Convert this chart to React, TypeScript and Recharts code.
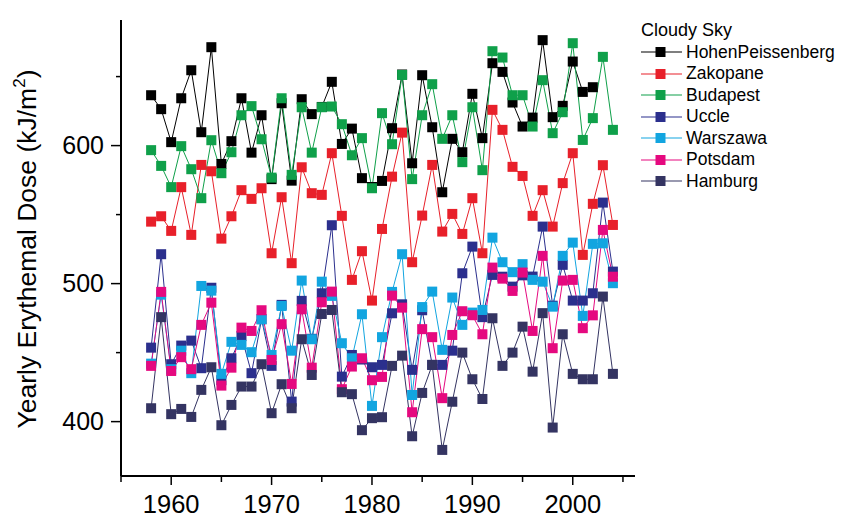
import React from 'react';
import { LineChart, Line, XAxis, YAxis, Legend } from 'recharts';

const years = [1958, 1959, 1960, 1961, 1962, 1963, 1964, 1965, 1966, 1967, 1968, 1969, 1970, 1971, 1972, 1973, 1974, 1975, 1976, 1977, 1978, 1979, 1980, 1981, 1982, 1983, 1984, 1985, 1986, 1987, 1988, 1989, 1990, 1991, 1992, 1993, 1994, 1995, 1996, 1997, 1998, 1999, 2000, 2001, 2002, 2003, 2004];

const hohenPeissenberg = [636.5, 626.4, 602.5, 634.3, 654.6, 609.7, 671.3, 586.7, 603.2, 634.3, 594.9, 622, 575.7, 630.7, 574.6, 633.6, 622.8, 628, 646.2, 601.2, 612.3, 576.4, 570, 574.4, 612.6, 651.5, 587.2, 651, 613.3, 566.2, 604.9, 595.2, 637.5, 605.4, 659.7, 653.4, 631.2, 613.8, 620.3, 676.4, 620.6, 628.8, 660.9, 638.9, 642.3, null, null];
const zakopane = [544.9, 548.8, 538.2, 569.9, 535.3, 586, 581.4, 532.6, 548.8, 567.7, 561.4, 569.1, 522, 562.6, 514.8, 584.3, 565.5, 564.3, 594.5, 549.1, 502.7, 523.5, 487.7, 539.6, 577.5, 609.4, 515.5, 549.3, 586, 537.7, 550.5, 536, 561.9, 522, 625.9, 611.4, 584.6, 578, 549.1, 567.7, 541.3, 572.8, 594.5, 520.8, 557.8, 585.8, 542.5];
const budapest = [596.7, 585.3, 569.9, 599.6, 582.9, 561.9, 603.9, 580, 595.2, 622, 628.6, 604.6, 576.8, 634.3, 578.8, 627.8, 594.9, 627.8, 628.3, 615.5, 593, 605.4, 569.1, 623.5, 601, 651.2, 575.7, 622, 644.5, 604.9, 622, 588, 627.8, 582.2, 668.4, 663.8, 636.5, 636.5, 613.8, 647.4, 609, 624.2, 674.2, 604.1, 619.9, 664.3, 611.4];
const uccle = [453.6, 521.3, 441.6, 455.1, 458.7, 438.7, 497, 430, 445.9, 462, 435.1, 474.2, 440.4, 484.6, 414.5, 487.5, 460, 493, 542.3, 432.6, 448.3, 445, 439.4, 441.1, 478.5, 485, 437.5, 480.7, 441.1, 441.1, 451.4, 507.5, 526.8, 475.7, 506.3, 505, 497.8, 506, 505.1, 541.3, 484, 513.6, 487.7, 487.7, 493, 558.7, 508.7];
const warszawa = [442, 492, 438, 451.4, 435.1, 498.3, 494.9, 434.6, 457.8, 455.6, 450.3, 474.2, 448.3, 483.8, 451.4, 502.2, 459.7, 501.4, 491.1, 456.8, 445.9, 477.8, 411.4, 461.2, 494, 521.3, 419.3, 483, 494.2, 452, 489.9, 470.1, 479, 480.9, 533.3, 515.5, 508.3, 514.1, 502.7, 501.4, 483.3, 520.1, 529.7, 476.6, 528.8, 529.2, 500.3];
const potsdam = [440.4, 494, 436.7, 446.7, 438, 470.1, 486.2, 426.1, 439.1, 468.1, 465.7, 480.7, 444.7, 470.6, 427.3, 481.4, 439.1, 486.5, 494.2, 423.5, 439.9, 445.9, 430, 432.4, 491.3, 482.6, 406.8, 467, 461.2, 417, 462.8, 480, 477.1, 463.3, 511.6, 503.6, 494.7, 508, 465.7, 520.1, 453.2, 502.2, 502.7, 467.7, 477, 538.9, 505];
const hamburg = [409.7, 475.7, 405.4, 409.2, 403.4, 423, 439.4, 397.4, 412.1, 425.4, 425.4, 441.6, 406.1, 427.1, 409.7, 459.7, 433.8, 478, 480.9, 421.3, 419.9, 393.8, 402.5, 403.2, 440.4, 447.8, 389.4, 420.8, 441.1, 379.5, 414.4, 450, 430.7, 416.4, 474.9, 440.4, 450, 468.8, 436.2, 478.6, 395.7, 463.3, 434.6, 430.7, 430.7, 490.6, 434.6];

const seriesNames = ['HohenPeissenberg', 'Zakopane', 'Budapest', 'Uccle', 'Warszawa', 'Potsdam', 'Hamburg'];
const seriesKeys = ['hohen', 'zakopane', 'budapest', 'uccle', 'warszawa', 'potsdam', 'hamburg'];
const seriesValues = [hohenPeissenberg, zakopane, budapest, uccle, warszawa, potsdam, hamburg];
const seriesColors = ['#000000', '#E8202A', '#0FA04A', '#2B2F8D', '#12A5E0', '#E5097F', '#343462'];

const xTicks = [1955, 1960, 1965, 1970, 1975, 1980, 1985, 1990, 1995, 2000, 2005];
const xLabelled = [1960, 1970, 1980, 1990, 2000];
const yTicks = [400, 450, 500, 550, 600, 650];
const yLabelled = [400, 500, 600];
const legendTitle = 'Cloudy Sky';
const yTitle = 'Yearly Erythemal Dose (kJ/m';

const FONT = '"Liberation Sans", Arial, sans-serif';

const data = years.map((year, i) => {
  const row: any = { year };
  seriesKeys.forEach((k, s) => {
    row[k] = seriesValues[s][i];
  });
  return row;
});

const makeDot = (color: string) => (props: any) => {
  const { cx, cy, index, value } = props;
  if (cx == null || cy == null || value == null || Number.isNaN(cx) || Number.isNaN(cy)) {
    return <g key={`d-${index}`} />;
  }
  return <rect key={`d-${index}`} x={cx - 5} y={cy - 5} width={10} height={10} fill={color} stroke="none" />;
};

const XTick = (props: any) => {
  const { x, y, payload } = props;
  const v = payload.value;
  const major = xLabelled.includes(v);
  return (
    <g>
      <line x1={x} x2={x} y1={y} y2={y + (major ? 9 : 6)} stroke="#000" strokeWidth={1.5} />
      {major && (
        <text x={x} y={y + 37} textAnchor="middle" fontFamily={FONT} fontSize={25.5} fill="#000">
          {v}
        </text>
      )}
    </g>
  );
};

const YTick = (props: any) => {
  const { x, y, payload } = props;
  const v = payload.value;
  const major = yLabelled.includes(v);
  return (
    <g>
      <line x1={x - (major ? 10 : 5)} x2={x} y1={y} y2={y} stroke="#000" strokeWidth={1.5} />
      {major && (
        <text x={x - 17} y={y + 8.5} textAnchor="end" fontFamily={FONT} fontSize={25} fill="#000">
          {v}
        </text>
      )}
    </g>
  );
};

const YTitle = () => (
  <text
    x={36}
    y={249}
    transform="rotate(-90, 36, 249)"
    textAnchor="middle"
    fontFamily={FONT}
    fontSize={26.5}
    fill="#000"
  >
    {yTitle}
    <tspan dy={-11} fontSize={17}>2</tspan>
    <tspan dy={11}>)</tspan>
  </text>
);

const LegendContent = () => (
  <div style={{ fontFamily: FONT, color: '#000' }}>
    <div style={{ height: 21.5, lineHeight: '21.5px', fontSize: 18 }}>{legendTitle}</div>
    {seriesNames.map((name, i) => (
      <div key={name} style={{ height: 21.5, display: 'flex', alignItems: 'center' }}>
        <svg width={41} height={12} style={{ display: 'block' }}>
          <line x1={0} x2={41} y1={6} y2={6} stroke={seriesColors[i]} strokeWidth={1.2} />
          <rect x={14.5} y={1} width={10} height={10} fill={seriesColors[i]} />
        </svg>
        <span style={{ marginLeft: 4, fontSize: 17.5, lineHeight: '21.5px', whiteSpace: 'nowrap' }}>{name}</span>
      </div>
    ))}
  </div>
);

export default function App() {
  return (
    <div style={{ position: 'absolute', left: 0, top: 0, width: 848, height: 528, background: '#fff' }}>
      <LineChart width={848} height={528} data={data} margin={{ top: 20, right: 213, left: 0, bottom: 0 }}>
        <XAxis
          dataKey="year"
          type="number"
          domain={[1955, 2006.2]}
          ticks={xTicks}
          interval={0}
          height={52}
          tickSize={0}
          tickMargin={0}
          tickLine={false}
          axisLine={{ stroke: '#000', strokeWidth: 2 }}
          tick={<XTick />}
          allowDataOverflow
        />
        <YAxis
          type="number"
          domain={[360.6, 691]}
          ticks={yTicks}
          interval={0}
          width={121}
          tickSize={0}
          tickMargin={0}
          tickLine={false}
          axisLine={{ stroke: '#000', strokeWidth: 2 }}
          tick={<YTick />}
          allowDataOverflow
          label={{ content: () => <YTitle /> }}
        />
        <Legend
          layout="horizontal"
          verticalAlign="middle"
          align="center"
          content={() => <LegendContent />}
          wrapperStyle={{ position: 'absolute', left: 641, top: 20, width: 207, height: 180 }}
        />
        {seriesKeys.map((k, i) => (
          <Line
            key={k}
            dataKey={k}
            name={seriesNames[i]}
            stroke={seriesColors[i]}
            strokeWidth={1}
            dot={makeDot(seriesColors[i])}
            activeDot={false}
            isAnimationActive={false}
            connectNulls={false}
            type="linear"
          />
        ))}
      </LineChart>
    </div>
  );
}
